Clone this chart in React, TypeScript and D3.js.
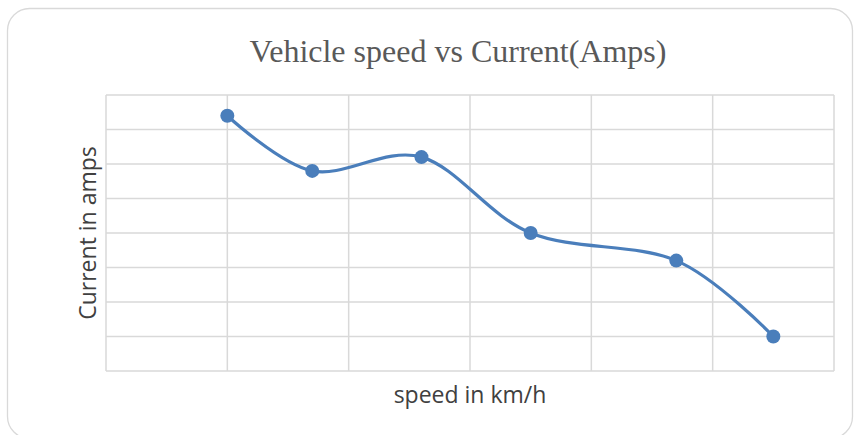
import React from "react";
import * as d3 from "d3";

const speeds = [10, 17, 26, 35, 47, 55];
const currents = [14.8, 11.6, 12.4, 8.0, 6.4, 2.0];
const xTicks = [0, 10, 20, 30, 40, 50, 60];
const yTicks = [0, 2, 4, 6, 8, 10, 12, 14, 16];
const title = "Vehicle speed vs Current(Amps)";
const xLabel = "speed in km/h";
const yLabel = "Current in amps";

export default function App() {
  const W = 854, H = 435;
  const left = 106, right = 834, top = 95, bottom = 371;
  const x = d3.scaleLinear().domain([0, 60]).range([left, right]);
  const y = d3.scaleLinear().domain([0, 16]).range([bottom, top]);
  const pts: [number, number][] = speeds.map((s, i) => [x(s), y(currents[i])]);
  const line = d3.line().curve(d3.curveCardinal.tension(0))(pts) || "";
  const grid = "#d9d9d9";
  const blue = "#4a7ebb";
  return (
    <div style={{ position: "absolute", left: 0, top: 0 }}>
      <svg width={W} height={H} style={{ display: "block" }}>
        <rect x={0} y={0} width={W} height={H} fill="#fff" />
        <rect x={7.5} y={8.5} width={845} height={430} rx={22} ry={22} fill="#fff" stroke={grid} strokeWidth={1.3} />
        {xTicks.map((t) => (
          <line key={"x" + t} x1={x(t)} x2={x(t)} y1={top} y2={bottom} stroke={grid} strokeWidth={1.5} />
        ))}
        {yTicks.map((t) => (
          <line key={"y" + t} x1={left} x2={right} y1={y(t)} y2={y(t)} stroke={grid} strokeWidth={1.5} />
        ))}
        <path d={line} fill="none" stroke={blue} strokeWidth={3.2} strokeLinecap="round" />
        {pts.map((p, i) => (
          <circle key={i} cx={p[0]} cy={p[1]} r={7} fill={blue} />
        ))}
        <text x={458} y={62} textAnchor="middle" fontFamily="'Liberation Serif', 'Times New Roman', serif" fontSize={32} fill="#595959">
          {title}
        </text>
        <text x={470} y={403} textAnchor="middle" fontFamily="'Open Sans', sans-serif" fontSize={23} fill="#404040">
          {xLabel}
        </text>
        <text transform={`translate(96,${(top + bottom) / 2}) rotate(-90)`} textAnchor="middle" fontFamily="'Open Sans', sans-serif" fontSize={23} fill="#404040">
          {yLabel}
        </text>
      </svg>
    </div>
  );
}
